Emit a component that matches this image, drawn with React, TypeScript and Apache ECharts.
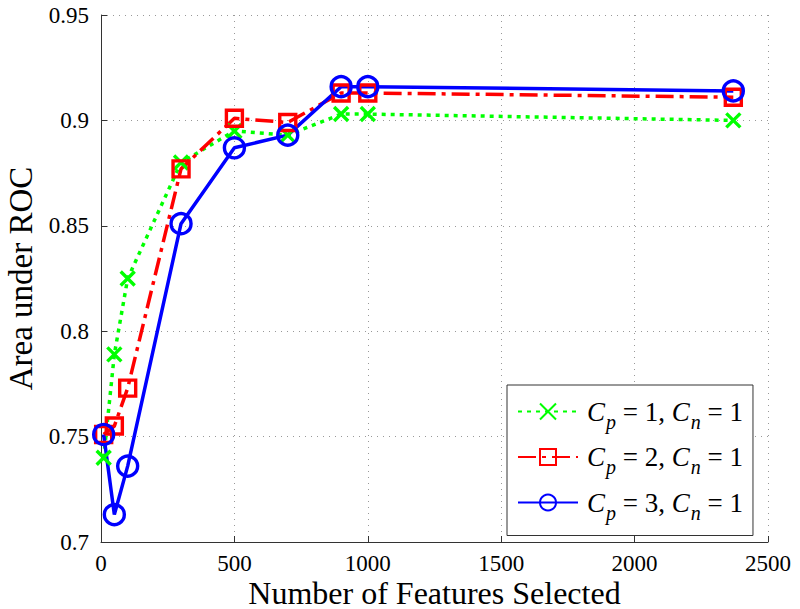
import React, { useEffect, useRef } from "react";
import * as echarts from "echarts";

const featureCounts = [10, 50, 100, 300, 500, 700, 900, 1000, 2370];
const aucCp1 = [0.74, 0.789, 0.825, 0.88, 0.895, 0.893, 0.903, 0.903, 0.9];
const aucCp2 = [0.751, 0.755, 0.773, 0.877, 0.901, 0.899, 0.913, 0.913, 0.911];
const aucCp3 = [0.751, 0.713, 0.736, 0.851, 0.887, 0.893, 0.916, 0.916, 0.914];
const seriesNames = ["Cp1", "Cp2", "Cp3"];
const legendLabels = [
  "{i|C}{s|p}{t| = 1, }{j|C}{s|n}{t| = 1}",
  "{i|C}{s|p}{t| = 2, }{j|C}{s|n}{t| = 1}",
  "{i|C}{s|p}{t| = 3, }{j|C}{s|n}{t| = 1}",
];

const FONT = "Liberation Serif";
const xMark = "path://M0,0L10,10M10,0L0,10";

export default function App() {
  const ref = useRef<HTMLDivElement>(null);
  useEffect(() => {
    if (!ref.current) return;
    const chart = echarts.init(ref.current, undefined, { renderer: "svg" });
    const pairs = (ys: number[]) => featureCounts.map((x, i) => [x, ys[i]]);
    const mk = (
      name: string,
      ys: number[],
      color: string,
      type: any,
      symbol: string,
      size: number
    ) => ({
      name,
      type: "line",
      data: pairs(ys),
      symbol,
      symbolSize: size,
      lineStyle: { color, width: 3.5, type },
      itemStyle: { color: "rgba(0,0,0,0)", borderColor: color, borderWidth: 3.4 },
      emphasis: { disabled: true },
    });
    const labelStyle = {
      fontFamily: FONT,
      fontSize: 23,
      lineHeight: 23,
      color: "#000",
    };
    chart.setOption({
      animation: false,
      backgroundColor: "#fff",
      textStyle: { fontFamily: FONT, color: "#000" },
      grid: {
        left: 101,
        right: 32,
        top: 15,
        bottom: 67,
        containLabel: false,
        outerBoundsMode: "none",
      },
      xAxis: {
        type: "value",
        min: 0,
        max: 2500,
        interval: 500,
        name: "Number of Features Selected",
        nameLocation: "middle",
        nameGap: 36,
        nameMoveOverlap: false,
        nameTextStyle: { fontFamily: FONT, fontSize: 32, lineHeight: 30, color: "#000" },
        axisLine: { show: true, lineStyle: { color: "#333", width: 1 } },
        axisTick: { show: true, inside: true, length: 6, lineStyle: { color: "#333" } },
        axisLabel: {
          ...labelStyle,
          margin: 10,
          formatter: (v: number) => String(v),
        },
        splitLine: { show: true, lineStyle: { color: "#999", type: [1, 5], width: 1 } },
      },
      yAxis: {
        type: "value",
        min: 0.7,
        max: 0.95,
        interval: 0.05,
        name: "Area under ROC",
        nameLocation: "middle",
        nameGap: 55,
        nameTextStyle: { fontFamily: FONT, fontSize: 33, color: "#000" },
        axisLine: { show: true, lineStyle: { color: "#333", width: 1 } },
        axisTick: { show: true, inside: true, length: 6, lineStyle: { color: "#333" } },
        axisLabel: {
          ...labelStyle,
          margin: 12,
          formatter: (v: number) => String(parseFloat(v.toFixed(2))),
        },
        splitLine: { show: true, lineStyle: { color: "#999", type: [1, 5], width: 1 } },
      },
      legend: {
        orient: "vertical",
        left: 507,
        top: 385,
        padding: [13, 10, 13, 10],
        itemWidth: 60,
        itemHeight: 20,
        itemGap: 12,
        backgroundColor: "#fff",
        borderColor: "#333",
        borderWidth: 1,
        data: seriesNames,
        formatter: (name: string) => legendLabels[seriesNames.indexOf(name)],
        textStyle: {
          fontFamily: FONT,
          fontSize: 27,
          color: "#000",
          rich: {
            i: {
              fontFamily: FONT,
              fontSize: 27,
              fontStyle: "italic",
              color: "#000",
              padding: [0, 0, 0, 4],
            },
            j: { fontFamily: FONT, fontSize: 27, fontStyle: "italic", color: "#000" },
            s: {
              fontFamily: FONT,
              fontSize: 20,
              fontStyle: "italic",
              color: "#000",
              padding: [20, 0, 0, 1],
            },
            t: { fontFamily: FONT, fontSize: 27, color: "#000" },
          },
        },
      },
      series: [
        mk(seriesNames[0], aucCp1, "#00ff00", [4, 5], xMark, 14),
        mk(seriesNames[1], aucCp2, "#ff0000", [18, 6, 4, 6], "rect", 16),
        mk(seriesNames[2], aucCp3, "#0000ff", "solid", "circle", 20),
      ],
    });
    return () => chart.dispose();
  }, []);
  return <div ref={ref} style={{ width: 800, height: 609, position: "absolute", left: 0, top: 0 }} />;
}
